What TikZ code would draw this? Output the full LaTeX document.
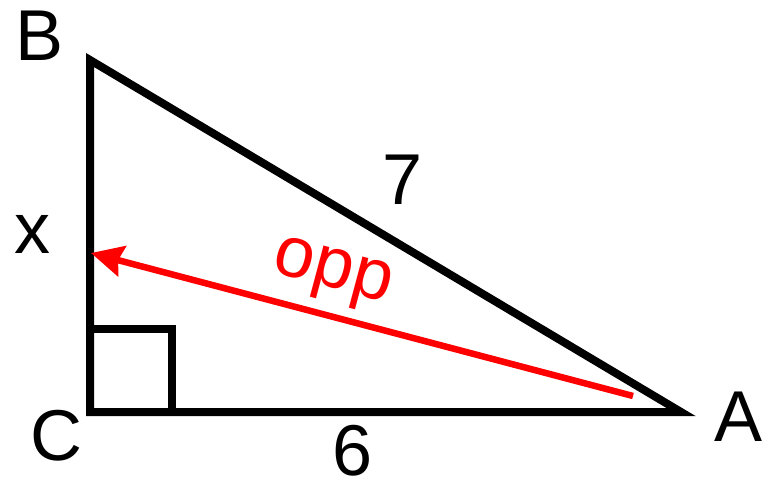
\documentclass[tikz,border=0pt]{standalone}
\usepackage{fontspec}
\setmainfont{Liberation Sans}
\usetikzlibrary{arrows.meta}
\begin{document}
\begin{tikzpicture}[x=1pt,y=-1pt,
  edge/.style={line width=8pt,line join=miter,miter limit=20},
  lbl/.style={inner sep=0pt,font=\fontsize{72}{80}\selectfont}]
\useasboundingbox (0,0) rectangle (765,482);
\coordinate (B) at (90,60);
\coordinate (C) at (90,412);
\coordinate (A) at (681,412);
\coordinate (S1) at (90,329);
\coordinate (S2) at (172,329);
\coordinate (S3) at (172,412);
\coordinate (tail) at (633,396);
\coordinate (tip) at (91,253);
\draw[edge] (B) -- (C) -- (A) -- cycle;
\draw[edge] (S1) -- (S2) -- (S3);
\draw[red,line width=6.5pt,-{Stealth[length=32pt,width=31pt,inset=4pt]}] (tail) -- (tip);
\node[lbl] (lB) at (39.5,35.5) {B};
\node[lbl] (lx) at (32,234.5) {x};
\node[lbl] (lC) at (56,436) {C};
\node[lbl] (lA) at (739,416.5) {A};
\node[lbl] (l7) at (402.5,180) {7};
\node[lbl] (l6) at (353,451) {6};
\node[lbl,red,rotate=-15,anchor=base] (lopp) at (329,287) {opp};
\end{tikzpicture}
\end{document}
